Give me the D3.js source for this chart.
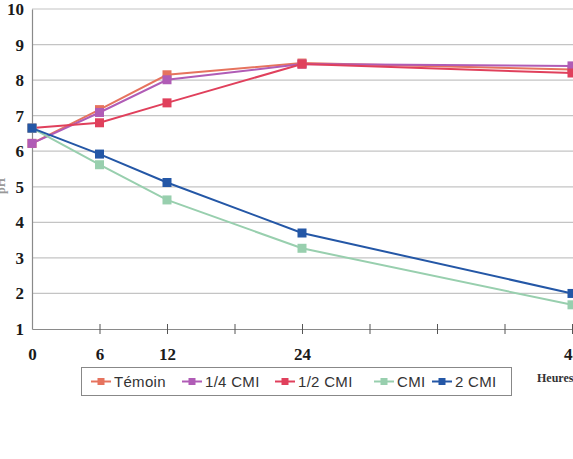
<!DOCTYPE html>
<html>
<head>
<meta charset="utf-8">
<script src="https://cdn.jsdelivr.net/npm/d3@7"></script>
<style>
  body { margin: 0; background: #fff; }
  svg { display: block; }
</style>
</head>
<body>
<svg id="chart" width="573" height="459"></svg>
<script>
// hours sampled
const hours = [0, 6, 12, 24, 48];
const tickHours = [0, 6, 12, 18, 24, 30, 36, 42, 48];
const labelHours = [0, 6, 12, 24, 48];
const yTicks = [1, 2, 3, 4, 5, 6, 7, 8, 9, 10];

const seriesNames = ["Témoin", "1/4 CMI", "1/2 CMI", "CMI", "2 CMI"];
const temoin = [6.22, 7.17, 8.15, 8.48, 8.3];
const quartCMI = [6.22, 7.09, 8.01, 8.45, 8.4];
const demiCMI = [6.65, 6.8, 7.36, 8.45, 8.2];
const cmi = [6.65, 5.62, 4.63, 3.27, 1.68];
const deuxCMI = [6.65, 5.92, 5.12, 3.7, 2.0];
const seriesColors = ["#e6735e", "#b05cb6", "#e0405c", "#98cfae", "#2457a6"];

const series = [temoin, quartCMI, demiCMI, cmi, deuxCMI].map((vals, i) => ({
    name: seriesNames[i],
    color: seriesColors[i],
    values: vals.map((v, j) => ({h: hours[j], v}))
}));

const svg = d3.select("#chart");

const x = d3.scaleLinear().domain([0, 48]).range([32, 572]);
const y = d3.scaleLinear().domain([1, 10]).range([329, 9]);

const serif = "'Liberation Serif', 'DejaVu Serif', serif";

// gridlines
svg.append("g")
    .selectAll("line")
    .data(yTicks.filter(d => d > 1))
    .join("line")
    .attr("x1", x(0)).attr("x2", 573)
    .attr("y1", d => y(d)).attr("y2", d => y(d))
    .attr("stroke", "#c4c4c4")
    .attr("stroke-width", 1.2);

// y axis
const yAxis = svg.append("g")
    .attr("transform", `translate(${x(0)},0)`)
    .call(d3.axisLeft(y).tickValues(yTicks).tickSize(0).tickPadding(8));
yAxis.select(".domain").attr("stroke", "#8a8a8a").attr("stroke-width", 1.2);
yAxis.selectAll("text")
    .style("font-family", serif)
    .style("font-weight", "bold")
    .style("font-size", "17px")
    .attr("fill", "#1a1a1a");

// x axis
const xAxis = svg.append("g")
    .attr("transform", `translate(0,${y(1)})`)
    .call(d3.axisBottom(x).tickValues(tickHours).tickSize(5).tickSizeOuter(0)
        .tickFormat(d => labelHours.includes(d) ? d : ""));
xAxis.select(".domain").attr("stroke", "#8a8a8a").attr("stroke-width", 1.2);
xAxis.selectAll(".tick line").attr("stroke", "#555").attr("y1", -5).attr("y2", 5);
xAxis.selectAll("text")
    .attr("dy", null)
    .attr("y", 31)
    .style("font-family", serif)
    .style("font-weight", "bold")
    .style("font-size", "17px")
    .attr("fill", "#1a1a1a");
xAxis.selectAll(".tick").filter(d => d === 0).select("line").remove();

// axis titles
svg.append("text")
    .attr("x", 537).attr("y", 382)
    .style("font-family", serif)
    .style("font-weight", "bold")
    .style("font-size", "12px")
    .attr("fill", "#333")
    .text("Heures");

svg.append("text")
    .attr("transform", "translate(5,186) rotate(-90)")
    .attr("text-anchor", "middle")
    .style("font-family", serif)
    .style("font-weight", "bold")
    .style("font-size", "12px")
    .attr("fill", "#999")
    .text("pH");

// lines + markers
const line = d3.line().x(d => x(d.h)).y(d => y(d.v));

const groups = svg.append("g")
    .selectAll("g.series")
    .data(series)
    .join("g")
    .attr("class", "series");

groups.append("path")
    .attr("d", d => line(d.values))
    .attr("fill", "none")
    .attr("stroke", d => d.color)
    .attr("stroke-width", 2);

groups.selectAll("rect")
    .data(d => d.values.map(p => ({...p, color: d.color})))
    .join("rect")
    .attr("x", d => x(d.h) - 4.5)
    .attr("y", d => y(d.v) - 4.5)
    .attr("width", 9)
    .attr("height", 9)
    .attr("fill", d => d.color);

// legend
const legendX = [91, 182, 275, 374, 432];
const legend = svg.append("g");
legend.append("rect")
    .attr("x", 81.5).attr("y", 367.5)
    .attr("width", 430).attr("height", 28)
    .attr("fill", "#fff")
    .attr("stroke", "#888")
    .attr("stroke-width", 1);

const items = legend.selectAll("g.item")
    .data(series)
    .join("g")
    .attr("class", "item")
    .attr("transform", (d, i) => `translate(${legendX[i]},381.5)`);

items.append("line")
    .attr("x1", 0).attr("x2", 20)
    .attr("stroke", d => d.color)
    .attr("stroke-width", 2);
items.append("rect")
    .attr("x", 6.5).attr("y", -3.5)
    .attr("width", 7).attr("height", 7)
    .attr("fill", d => d.color);
items.append("text")
    .attr("x", 23).attr("y", 5.5)
    .style("font-family", "'Liberation Sans', Arial, sans-serif")
    .style("font-size", "15px")
    .style("letter-spacing", "0.3px")
    .attr("fill", "#333")
    .text(d => d.name);
</script>
</body>
</html>
